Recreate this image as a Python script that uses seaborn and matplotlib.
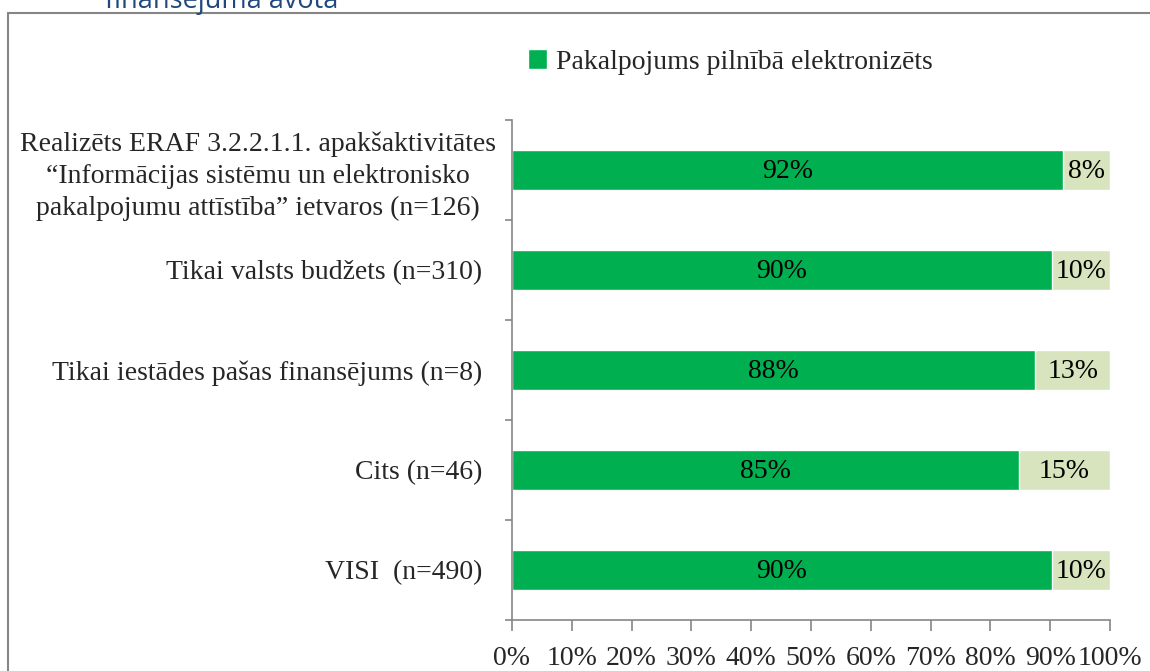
import numpy as np
import pandas as pd
import matplotlib.pyplot as plt
import seaborn as sns
from matplotlib.patches import Rectangle, Patch

# Data
categories = [
    "Realizēts ERAF 3.2.2.1.1. apakšaktivitātes\n\u201cInformācijas sistēmu un elektronisko\npakalpojumu attīstība\u201d ietvaros (n=126)",
    "Tikai valsts budžets (n=310)",
    "Tikai iestādes pašas finansējums (n=8)",
    "Cits (n=46)",
    "VISI  (n=490)",
]
full_share = [92.1, 90.3, 87.5, 84.8, 90.3]
rest_share = [100 - v for v in full_share]
legend_label = "Pakalpojums pilnībā elektronizēts"
x_ticks = [0, 10, 20, 30, 40, 50, 60, 70, 80, 90, 100]

green = "#00B050"
light = "#D7E4BD"
grey = "#868686"
fs = 20

df = pd.DataFrame({"cat": categories, "full": full_share, "total": 100.0})

sns.set_style("white")
plt.rcParams["font.family"] = ["Liberation Serif", "DejaVu Serif"]

fig = plt.figure(figsize=(11.5, 6.71), dpi=100)
ax = fig.add_axes([512 / 1150, 1 - 620 / 671, 598 / 1150, 500 / 671])

# stacked: light background to 100%, green on top
sns.barplot(data=df, x="total", y="cat", orient="h", color=light, width=0.4,
            saturation=1, ax=ax)
sns.barplot(data=df, x="full", y="cat", orient="h", color=green, width=0.4,
            saturation=1, ax=ax)

def pct(v):
    return f"{int(v + 0.5)}%"

for i, (f, r) in enumerate(zip(full_share, rest_share)):
    ax.text(f / 2, i + 0.02, pct(f), ha="center", va="center", fontsize=fs, color="black")
    ax.text(f + r / 2, i + 0.02, pct(r), ha="center", va="center", fontsize=fs, color="black")

ax.set_xlim(0, 100)
ax.set_ylim(len(categories) - 0.5, -0.5)
ax.set_xticks(x_ticks)
ax.set_xticklabels([f"{t}%" for t in x_ticks], fontsize=fs)
ax.set_yticks(range(len(categories)))
ax.set_yticklabels(categories, fontsize=fs, ha="right", multialignment="center",
                   linespacing=1.35)
ax.set_xlabel("")
ax.set_ylabel("")

# category separators on y axis
ax.set_yticks(np.arange(-0.5, len(categories), 1), minor=True)
ax.tick_params(axis="y", which="major", left=False, pad=18)
ax.tick_params(axis="y", which="minor", left=True, length=5, color=grey,
               width=1.2, direction="out")
ax.tick_params(axis="x", bottom=True, length=8, color=grey, width=1.2,
               direction="out", pad=11, labelsize=fs)

# the long first label sits a bit closer to the axis
ax.yaxis.get_major_ticks()[0].set_pad(8)

sns.despine(ax=ax, top=True, right=True)
for s in ["left", "bottom"]:
    ax.spines[s].set_color(grey)
    ax.spines[s].set_linewidth(1.2)

ax.legend(handles=[Patch(facecolor=green, label=legend_label)],
          loc="center", bbox_to_anchor=(730 / 1150, 1 - 62 / 671),
          bbox_transform=fig.transFigure, frameon=False, fontsize=fs,
          handlelength=0.7, handleheight=0.7, handletextpad=0.3)

# outer chart frame and clipped title above it
fig.patches.append(Rectangle((8 / 1150, -0.1), 1.2, 1 - 13 / 671 + 0.1,
                             transform=fig.transFigure, fill=False,
                             edgecolor=grey, linewidth=1.5))
fig.text(105 / 1150, 1 - 8 / 671, "finansējuma avota", fontsize=19.5,
         color="#1F497D", family=["Open Sans", "DejaVu Sans"], va="baseline")

fig.savefig("out.png", dpi=100)
